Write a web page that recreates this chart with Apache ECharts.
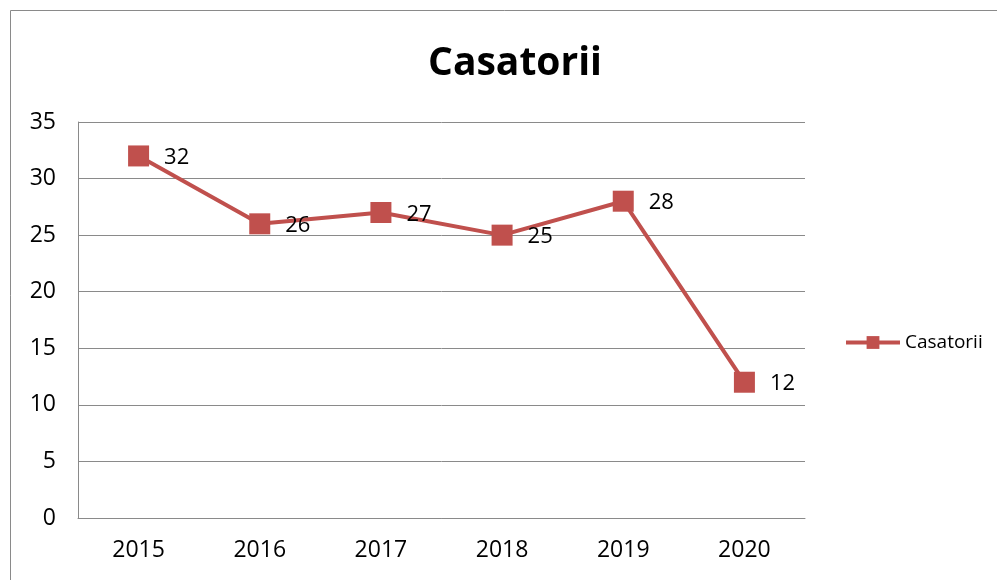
<!DOCTYPE html>
<html><head><meta charset="utf-8">
<script src="https://cdn.jsdelivr.net/npm/echarts@6/dist/echarts.min.js"></script>
<style>html,body{margin:0;padding:0;background:#fff}#c{width:997px;height:580px}</style>
</head><body><div id="c"></div>
<script>
const categories = ['2015','2016','2017','2018','2019','2020'];
const seriesName = 'Casatorii';
const values = [32, 26, 27, 25, 28, 12];
const yTicks = [0, 5, 10, 15, 20, 25, 30, 35];

const chart = echarts.init(document.getElementById('c'));
const font = 'Open Sans';
chart.setOption({
  animation: false,
  backgroundColor: '#fff',
  textStyle: { fontFamily: font },
  graphic: [{ type: 'rect', shape: { x: 10.5, y: 10.5, width: 1000, height: 600 }, style: { fill: 'none', stroke: '#8a8a8a', lineWidth: 1 } }],
  title: { text: 'Casatorii', left: 510, textAlign: 'center', top: 39,
    textStyle: { fontFamily: font, fontWeight: 'bold', fontSize: 39, color: '#000' } },
  legend: { data: [seriesName], left: 839, top: 328, itemWidth: 54, itemHeight: 16,
    lineStyle: { width: 4 },
    textStyle: { fontFamily: font, fontSize: 19, color: '#000' }, itemGap: 6 },
  grid: { left: 78, right: 192, top: 122, bottom: 62, containLabel: false },
  xAxis: { type: 'category', data: categories, boundaryGap: true,
    axisLine: { lineStyle: { color: '#8a8a8a', width: 1 } }, axisTick: { show: false },
    axisLabel: { fontFamily: font, fontSize: 23, color: '#000', margin: 21 } },
  yAxis: { type: 'value', min: yTicks[0], max: yTicks[yTicks.length-1], interval: 5,
    axisLine: { show: true, lineStyle: { color: '#8a8a8a', width: 1 } }, axisTick: { show: false },
    splitLine: { lineStyle: { color: '#8a8a8a', width: 1 } },
    axisLabel: { fontFamily: font, fontSize: 23, color: '#000', margin: 22 } },
  series: [{ name: seriesName, type: 'line', data: values, symbol: 'rect', symbolSize: 21,
    lineStyle: { color: '#C0504D', width: 4 }, itemStyle: { color: '#C0504D' },
    label: { show: true, position: 'right', distance: 15, fontFamily: font, fontSize: 22, color: '#000', offset: [0, 2] } }]
});
</script></body></html>
